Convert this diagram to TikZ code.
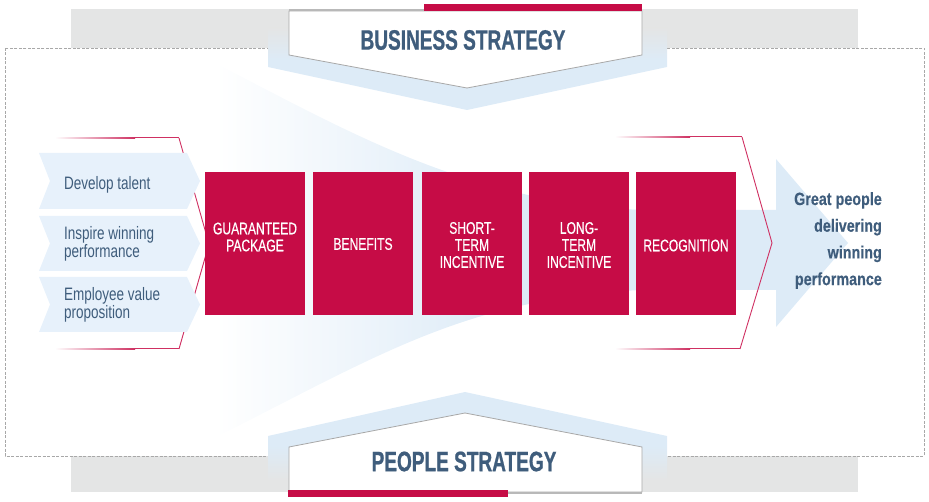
\documentclass[tikz,border=0pt]{standalone}
\usepackage{fontspec}
\setmainfont{Liberation Sans}
\newfontfamily\condreg[FakeStretch=0.75]{Liberation Sans}
\newfontfamily\condbox[FakeStretch=0.72,FakeBold=0.5]{Liberation Sans}
\newfontfamily\condbold[FakeStretch=0.81,FakeBold=0.4]{Liberation Sans}
\newfontfamily\condhead[FakeStretch=0.68,FakeBold=0.8]{Liberation Sans}
\definecolor{brandred}{HTML}{C60C46}
\definecolor{navytext}{HTML}{3F5D7C}
\definecolor{paleblue}{HTML}{DDEBF7}
\definecolor{chevblue}{HTML}{E7F1FB}
\definecolor{bandgray}{HTML}{E4E5E5}
\definecolor{edgegray}{HTML}{A8A8A8}
\tikzset{
  redbox/.style={fill=brandred, minimum width=100pt, minimum height=143pt,
    inner sep=0pt, outer sep=0pt},
  boxtext/.style={text=white, inner sep=0pt, align=center, font=\condbox\fontsize{16.8}{17}\selectfont},
  chevtext/.style={anchor=west, align=left, inner sep=0pt, text=navytext,
    font=\condreg\fontsize{18}{16.5}\selectfont},
  headtext/.style={inner sep=0pt, text=navytext, font=\condhead\bfseries\fontsize{28}{30}\selectfont},
  pentagon/.style={fill=white, draw=edgegray, line width=0.8pt, line join=miter},
  bracketline/.style={draw=brandred!85, line width=0.9pt},
  chevshape/.style={fill=chevblue}
}
\begin{document}
\begin{tikzpicture}[x=1pt,y=-1pt]
\useasboundingbox (0,0) rectangle (929,502);
% gray bands
\fill[bandgray] (71,9) rectangle (858,48);
\fill[bandgray] (71,456) rectangle (858,492);
% dashed frame
\draw[edgegray, line width=0.8pt, dash pattern=on 3pt off 1.5pt] (5,48) rectangle (924,456);
% funnel
\begin{scope}
  \clip (5.5,48.5) rectangle (923.5,455.5);
  \clip (170,40) .. controls (330,120) and (450,200) .. (640,210) -- (640,290)
        .. controls (450,300) and (365,365) .. (170,460) -- cycle;
  \shade[left color=white, right color=paleblue] (215,0) rectangle (500,502);
  \fill[paleblue] (500,0) rectangle (700,502);
\end{scope}
% shaft and arrow head
\fill[paleblue] (620,210) -- (776,210) -- (776,159) -- (848,243) -- (776,327) -- (776,290) -- (620,290) -- cycle;
% top blue chevron
\begin{scope}
  \clip (268,28) -- (667,28) -- (667,67) -- (467,110) -- (268,67) -- cycle;
  \shade[top color=bandgray, bottom color=paleblue] (260,28) rectangle (670,60);
  \fill[paleblue] (260,60) rectangle (670,112);
\end{scope}
% bottom blue chevron
\begin{scope}
  \clip (268,480) -- (667,480) -- (667,436) -- (465,392) -- (268,436) -- cycle;
  \fill[paleblue] (260,390) rectangle (670,446);
  \shade[top color=paleblue, bottom color=bandgray] (260,446) rectangle (670,480);
\end{scope}
% top pentagon
\draw[edgegray!80, line width=2pt] (289,10) -- (642,10);
\path[pentagon] (289,11) -- (642,11) -- (642,55) -- (467,88) -- (289,55) -- cycle;
\fill[brandred] (424,4) rectangle (642,11);
\node[headtext] (bs) at (463,40) {BUSINESS STRATEGY};
% bottom pentagon
\draw[edgegray!80, line width=2pt] (289,493) -- (642,493);
\path[pentagon] (289,492) -- (642,492) -- (642,447) -- (465,413) -- (289,447) -- cycle;
\fill[brandred] (288,490) rectangle (508,497);
\node[headtext] (ps) at (464,461.5) {PEOPLE STRATEGY};
% left bracket
\shade[left color=white, right color=brandred!85] (55,137.5) rectangle (135,138.5);
\fill[brandred!85] (135,137.5) rectangle (179,138.5);
\shade[left color=white, right color=brandred!85] (55,348.5) rectangle (135,349.5);
\fill[brandred!85] (135,348.5) rectangle (179,349.5);
\path[bracketline] (179,138) -- (209,244) -- (179,349);
% left chevrons
\fill[chevshape] (39,153) -- (187,153) -- (200,181) -- (187,209) -- (39,209) -- (50,181) -- cycle;
\fill[chevshape] (39,216) -- (187,216) -- (200,243.5) -- (187,271) -- (39,271) -- (50,243.5) -- cycle;
\fill[chevshape] (39,277) -- (187,277) -- (200,304.5) -- (187,332) -- (39,332) -- (50,304.5) -- cycle;
\node[chevtext] (c1) at (64,184.5) {Develop talent};
\node[chevtext] (c2) at (64,244) {Inspire winning\\performance};
\node[chevtext] (c3) at (64,305) {Employee value\\proposition};
% red boxes
\node[redbox] (b1) at (255,243.5) {};
\node[redbox] (b2) at (363,243.5) {};
\node[redbox] (b3) at (472,243.5) {};
\node[redbox] (b4) at (579,243.5) {};
\node[redbox] (b5) at (686,243.5) {};
\node[boxtext] (t1) at (255,237) {GUARANTEED\\PACKAGE};
\node[boxtext] (t2) at (363,244) {BENEFITS};
\node[boxtext] (t3) at (472,245) {SHORT-\\TERM\\INCENTIVE};
\node[boxtext] (t4) at (579,245) {LONG-\\TERM\\INCENTIVE};
\node[boxtext] (t5) at (686,245.5) {RECOGNITION};
% right bracket
\shade[left color=white, right color=brandred!85] (615,136.5) rectangle (690,137.5);
\fill[brandred!85] (690,136.5) rectangle (742,137.5);
\shade[left color=white, right color=brandred!85] (615,348.5) rectangle (690,349.5);
\fill[brandred!85] (690,348.5) rectangle (740,349.5);
\path[bracketline] (742,137) -- (772,243) -- (740,349);
% outcome text
\node[anchor=east, align=right, inner sep=0pt, text=navytext,
      font=\condbold\bfseries\fontsize{17.7}{26.7}\selectfont] (out) at (882,240.5)
      {Great people\\delivering\\winning\\performance};
\end{tikzpicture}
\end{document}
